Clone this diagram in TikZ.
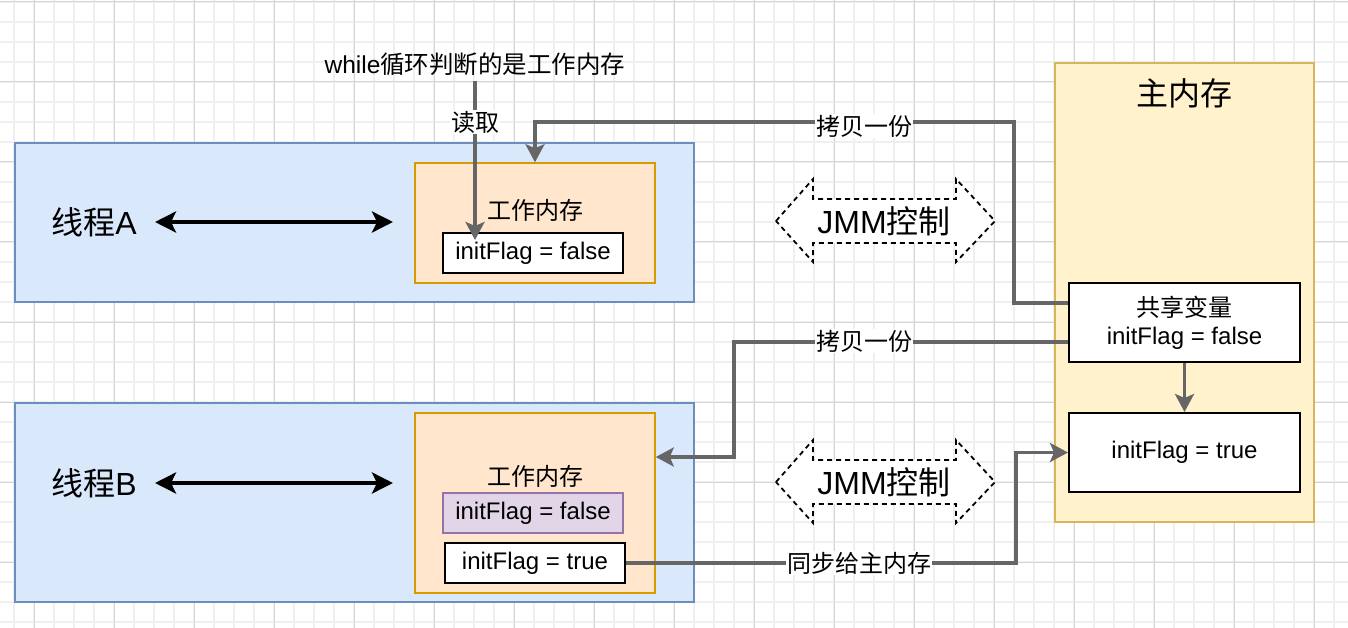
\documentclass[tikz,border=0pt]{standalone}
\usepackage{fontspec}
\setmainfont{Liberation Sans}
\newfontfamily\cjk{Noto Sans CJK SC}
\usetikzlibrary{arrows.meta}
\definecolor{bluefill}{HTML}{DAE8FC}
\definecolor{bluedraw}{HTML}{6C8EBF}
\definecolor{yelfill}{HTML}{FFF2CC}
\definecolor{yeldraw}{HTML}{D6B656}
\definecolor{orgfill}{HTML}{FFE6CC}
\definecolor{orgdraw}{HTML}{D79B00}
\definecolor{purfill}{HTML}{E1D5E7}
\definecolor{purdraw}{HTML}{9673A6}
\definecolor{edgegray}{HTML}{666666}
\definecolor{gridminor}{HTML}{EFEFEF}
\definecolor{gridmajor}{HTML}{D6D6D6}
\tikzset{
  thread/.style={draw=bluedraw, fill=bluefill, line width=1.5pt, rectangle, inner sep=0pt},
  mainmem/.style={draw=yeldraw, fill=yelfill, line width=1.5pt, rectangle, inner sep=0pt},
  workmem/.style={draw=orgdraw, fill=orgfill, line width=1.5pt, rectangle, inner sep=0pt},
  varbox/.style={draw=black, fill=white, line width=2pt, rectangle, inner sep=0pt, font=\fontsize{24}{28}\selectfont, align=center},
  purbox/.style={draw=purdraw, fill=purfill, line width=2pt, rectangle, inner sep=0pt, font=\fontsize{24}{27}\selectfont},
  conn/.style={draw=edgegray, line width=3.5pt, -{Stealth[length=18pt,width=19pt,inset=4pt]}},
  connlabel/.style={fill=white, inner sep=1pt, font=\fontsize{24}{26}\selectfont\cjk},
  blackarr/.style={draw=black, line width=4pt, {Stealth[length=21pt,width=21pt,inset=5pt]}-{Stealth[length=21pt,width=21pt,inset=5pt]}},
  jmmshape/.style={draw=black, fill=white, line width=1.8pt, dash pattern=on 5pt off 4pt},
  bigtext/.style={inner sep=0pt, font=\fontsize{32}{36}\selectfont},
  plain/.style={inner sep=0pt}
}
\begin{document}
\begin{tikzpicture}[x=1pt,y=-1pt]
\useasboundingbox (0,0) rectangle (1348,628);
\fill[white] (0,0) rectangle (1348,628);
% grid
\foreach \gx in {14,34,...,1348} \draw[gridminor, line width=1.5pt] (\gx,0) -- (\gx,628);
\foreach \gy in {2,22,...,628} \draw[gridminor, line width=1.5pt] (0,\gy) -- (1348,\gy);
\foreach \gx in {34,114,...,1348} \draw[gridmajor, line width=1pt] (\gx,0) -- (\gx,628);
\foreach \gy in {2,82,...,628} \draw[gridmajor, line width=1pt] (0,\gy) -- (1348,\gy);

% containers
\node[thread, minimum width=679pt, minimum height=159pt] (thA) at (354.5,222.5) {};
\node[thread, minimum width=679pt, minimum height=199pt] (thB) at (354.5,502.5) {};
\node[mainmem, minimum width=259pt, minimum height=459pt] (mm) at (1184.5,292.5) {};

\node[bigtext, font=\fontsize{32}{36}\selectfont\cjk] (mmlabel) at (1184,93) {主内存};

\node[workmem, minimum width=240pt, minimum height=120pt] (wmA) at (535,223) {};
\node[workmem, minimum width=240pt, minimum height=180pt] (wmB) at (535,503) {};

\node[plain, font=\fontsize{24}{26}\selectfont\cjk] (wmAlabel) at (535,210) {工作内存};
\node[plain, font=\fontsize{24}{26}\selectfont\cjk] (wmBlabel) at (535,476) {工作内存};

\node[varbox, minimum width=180pt, minimum height=40pt] (falseA) at (533,253) {\raisebox{-2pt}{initFlag = false}};
\node[purbox, minimum width=180pt, minimum height=40pt] (falseB) at (533,513) {\raisebox{-2pt}{initFlag = false}};
\node[varbox, minimum width=180pt, minimum height=40pt] (trueB) at (535,563) {\raisebox{-2pt}{initFlag = true}};

\node[varbox, minimum width=231pt, minimum height=79pt] (shared) at (1184.5,322.5) {{\cjk 共享变量}\\initFlag = false};
\node[varbox, minimum width=231pt, minimum height=79pt] (trueM) at (1184.5,452.5) {\raisebox{-2pt}{initFlag = true}};

% thread labels and arrows
\node[bigtext] (labA) at (94,222) {{\cjk 线程}A};
\node[bigtext] (labB) at (94,483) {{\cjk 线程}B};
\coordinate (aL) at (155,222); \coordinate (aR) at (393,222);
\coordinate (bL) at (155,483); \coordinate (bR) at (393,483);
\draw[blackarr] (aL) -- (aR);
\draw[blackarr] (bL) -- (bR);

% JMM dashed double arrows
\draw[jmmshape] (776,221) -- (813,179) -- (813,199) -- (956,199) -- (956,179) -- (995,221) -- (956,262) -- (956,243) -- (813,243) -- (813,262) -- cycle;
\node[bigtext] (jmmA) at (884,221) {JMM{\cjk 控制}};
\draw[jmmshape] (776,482) -- (813,440) -- (813,460) -- (956,460) -- (956,440) -- (995,482) -- (956,523) -- (956,504) -- (813,504) -- (813,523) -- cycle;
\node[bigtext] (jmmB) at (884,482) {JMM{\cjk 控制}};

% while label and read arrow
\node[plain, font=\fontsize{24.5}{28}\selectfont] (while) at (475,64) {while{\cjk 循环判断的是工作内存}};
\coordinate (readEnd) at (475,240);
\draw[conn] ([yshift=-5pt]while.south) -- (readEnd);
\node[connlabel] (read) at (475,122) {读取};

% copy to A
\draw[conn] ([yshift=19.5pt]shared.west) -- ++(-54,0) |- (535,122) -- (wmA.north);
\node[connlabel] (copyA) at (864,126) {拷贝一份};

% copy to B
\draw[conn] ([yshift=-19.5pt]shared.west) -- ++(-334,0) |- ([yshift=46pt]wmB.east);
\node[connlabel] (copyB) at (864,341) {拷贝一份};

% shared -> true
\draw[conn] (shared.south) -- (trueM.north);

% sync to main
\draw[conn] (trueB.east) -- ++(390,0) |- (trueM.west);
\node[connlabel] (sync) at (859,563) {同步给主内存};
\end{tikzpicture}
\end{document}
